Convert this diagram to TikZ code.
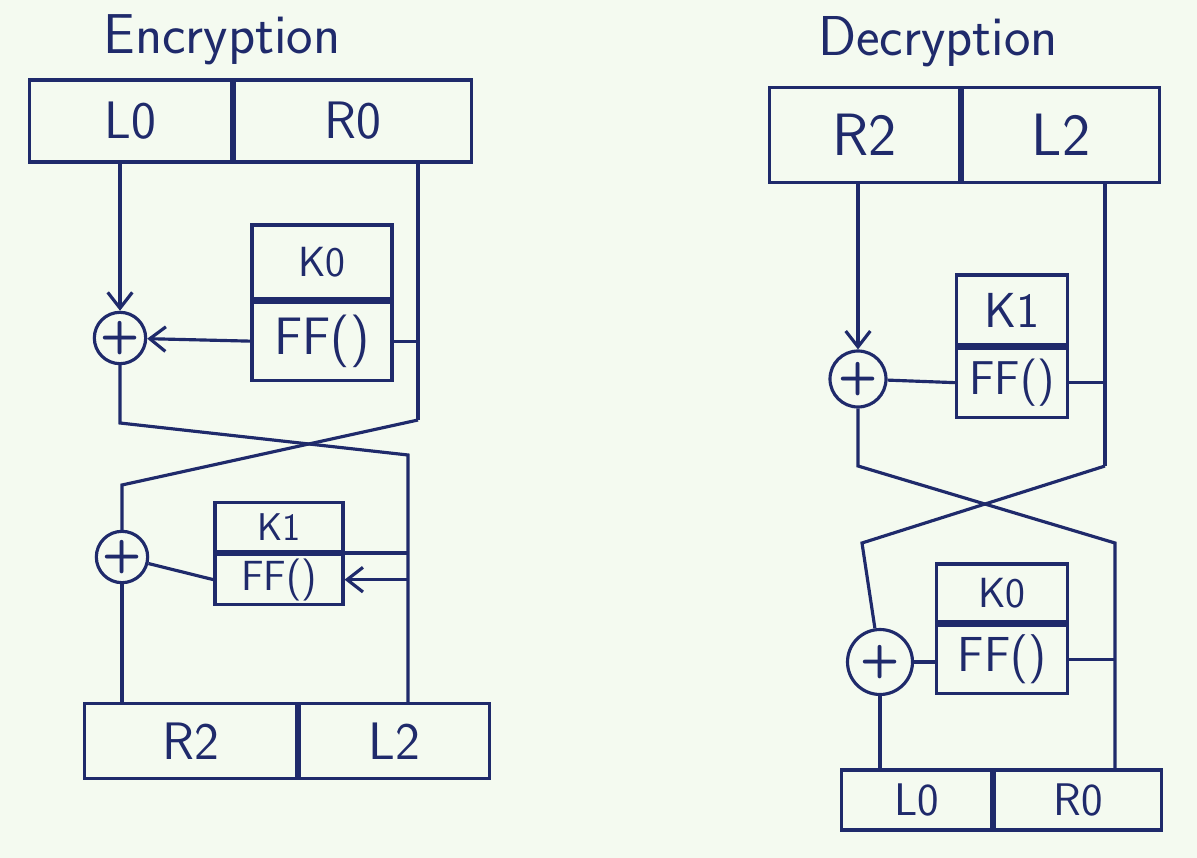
\documentclass[tikz,border=0pt]{standalone}
\usetikzlibrary{arrows.meta}
\definecolor{ink}{HTML}{1F2A6B}
\definecolor{paper}{HTML}{F4FAF0}

\begin{document}
\begin{tikzpicture}[x=0.02cm, y=-0.02cm, line width=1.8pt, color=ink,
    half/.style={draw, rectangle, inner sep=0pt, font=\sffamily\fontsize{30}{32}\selectfont},
    keybox/.style={draw, rectangle, inner sep=0pt, font=\sffamily\fontsize{24}{26}\selectfont},
    xorc/.style={draw, circle, inner sep=0pt, font=\sffamily\bfseries\fontsize{26}{26}\selectfont},
    title/.style={font=\sffamily\fontsize{32}{34}\selectfont},
    arr/.style={-{Straight Barb[length=9pt,width=14pt]}}]

    \fill[paper] (0,0) rectangle (1197,858);

    %% ** Encryption
    \node[title] (tenc) at (222,40) {Encryption};
    \draw
    (28,121)node[half, minimum width=4.04cm, minimum height=1.64cm, anchor=180](l0){L0}
    (l0.0)node[half, minimum width=4.74cm, minimum height=1.64cm, anchor=180](r0){R0}
    (83,741)node[half, minimum width=4.24cm, minimum height=1.5cm, anchor=180](r2){R2}
    (r2.0)node[half, minimum width=3.8cm, minimum height=1.5cm, anchor=180](l2){L2}
    ;

    % round 1
    \node[xorc, minimum size=0.88cm] (x1) at (120,338) {+};
    \node[keybox, minimum width=2.8cm, minimum height=1.48cm] (k0) at (322,262) {K0};
    \node[keybox, minimum width=2.8cm, minimum height=1.56cm, anchor=90, font=\sffamily\fontsize{30}{32}\selectfont] (f0) at (k0.270) {FF()};
    % round 2
    \node[xorc, minimum size=0.84cm] (x2) at (122,557) {+};
    \node[keybox, minimum width=2.56cm, minimum height=0.98cm, font=\sffamily\fontsize{22}{24}\selectfont] (k1) at (279,527) {K1};
    \node[keybox, minimum width=2.56cm, minimum height=1.0cm, anchor=90, font=\sffamily\fontsize{24}{26}\selectfont] (f1) at (k1.270) {FF()};

    \coordinate (e1l) at (120,423);
    \coordinate (e1r) at (418,420);
    \coordinate (e2l) at (122,485);
    \coordinate (e2r) at (408,455);

    \draw[arr] (l0.south -| x1) -- (x1);
    \draw (r0.south -| e1r) -- (e1r);
    \draw (f0.east) -- (f0.east -| e1r);
    \draw[arr] (f0.west) -- (x1);
    \draw (x1) -- (e1l) -- (e2r) -- (e2r |- l2.north);
    \draw (e1r) -- (e2l) -- (x2);
    \draw (x2) -- (f1.west);
    \draw (k1.south east) -- (k1.south east -| e2r);
    \draw[arr] (f1.east -| e2r) -- (f1.east);
    \draw (x2) -- (x2 |- r2.north);

    %% ** Decryption
    \node[title] (tdec) at (938,42) {Decryption};
    \draw
    (768,135)node[half, minimum width=3.8cm, minimum height=1.9cm, anchor=180, font=\sffamily\fontsize{34}{36}\selectfont](r2d){R2}
    (r2d.0)node[half, minimum width=3.94cm, minimum height=1.9cm, anchor=180, font=\sffamily\fontsize{34}{36}\selectfont](l2d){L2}
    (840,800)node[half, minimum width=3.0cm, minimum height=1.2cm, anchor=180, font=\sffamily\fontsize{26}{28}\selectfont](l0d){L0}
    (l0d.0)node[half, minimum width=3.34cm, minimum height=1.2cm, anchor=180, font=\sffamily\fontsize{26}{28}\selectfont](r0d){R0}
    ;

    % round 1
    \node[xorc, minimum size=1.12cm] (x3) at (858,379) {+};
    \node[keybox, minimum width=2.22cm, minimum height=1.4cm, font=\sffamily\fontsize{28}{30}\selectfont] (k1d) at (1012,310) {K1};
    \node[keybox, minimum width=2.22cm, minimum height=1.38cm, anchor=90, font=\sffamily\fontsize{27}{29}\selectfont] (f1d) at (k1d.270) {FF()};
    % round 2
    \node[xorc, minimum size=1.3cm] (x4) at (880,662) {+};
    \node[keybox, minimum width=2.62cm, minimum height=1.16cm] (k0d) at (1002,593) {K0};
    \node[keybox, minimum width=2.62cm, minimum height=1.36cm, anchor=90, font=\sffamily\fontsize{28}{30}\selectfont] (f0d) at (k0d.270) {FF()};

    \coordinate (d1l) at (858,466);
    \coordinate (d1r) at (1105,466);
    \coordinate (d2l) at (862,543);
    \coordinate (d2r) at (1115,543);

    \draw[arr] (r2d.south -| x3) -- (x3);
    \draw (l2d.south -| d1r) -- (d1r);
    \draw (x3) -- (f1d.west);
    \draw (f1d.east) -- (f1d.east -| d1r);
    \draw (x3) -- (d1l) -- (d2r) -- (d2r |- r0d.north);
    \draw (d1r) -- (d2l) -- (x4);
    \draw (x4.east) -- (x4.east -| f0d.west);
    \draw (f0d.east) -- (f0d.east -| d2r);
    \draw (x4) -- (x4 |- l0d.north);
\end{tikzpicture}
\end{document}
